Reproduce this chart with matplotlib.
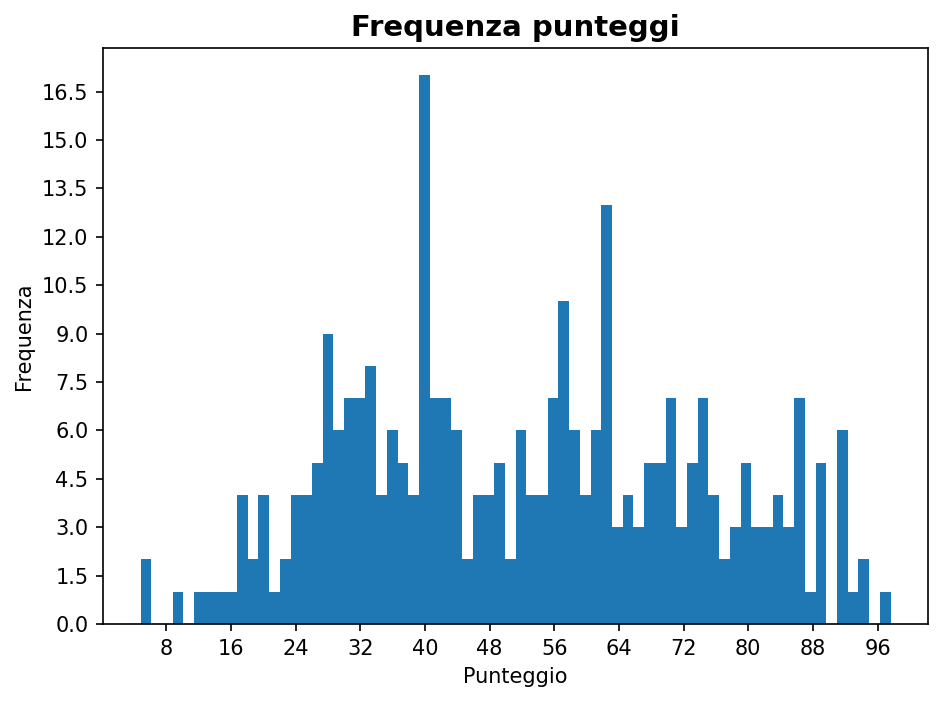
import numpy as np
import matplotlib.pyplot as plt

# histogram: 70 bins between the min and max score
score_min = 4.8
score_max = 97.6
n_bins = 70
counts = [2, 0, 0, 1, 0, 1, 1, 1, 1, 4, 2, 4, 1, 2, 4, 4,
          5, 9, 6, 7, 7, 8, 4, 6, 5, 4, 17, 7, 7, 6, 2, 4, 4, 5, 2, 6,
          4, 4, 7, 10, 6, 4, 6, 13, 3, 4, 3, 5, 5, 7, 3, 5, 7, 4,
          2, 3, 5, 3, 3, 4, 3, 7, 1, 5, 0, 6, 1, 2, 0, 1]
x_ticks = [8, 16, 24, 32, 40, 48, 56, 64, 72, 80, 88, 96]
y_ticks = [0.0, 1.5, 3.0, 4.5, 6.0, 7.5, 9.0, 10.5, 12.0, 13.5, 15.0, 16.5]

edges = np.linspace(score_min, score_max, n_bins + 1)

fig, ax = plt.subplots(figsize=(944/150, 702/150), dpi=150)
# stepfilled = one polygon, so no antialiasing seams between the bars
ax.hist(edges[:-1], bins=edges, weights=counts, color='#1f77b4',
        histtype='stepfilled')
ax.set_xticks(x_ticks)
ax.set_yticks(y_ticks)
ax.set_title('Frequenza punteggi', fontsize=14, fontweight='bold')
ax.set_xlabel('Punteggio')
ax.set_ylabel('Frequenza')

fig.subplots_adjust(left=103/944, right=928/944, top=1-48/702, bottom=1-624/702)
fig.savefig('out.png', dpi=150)
